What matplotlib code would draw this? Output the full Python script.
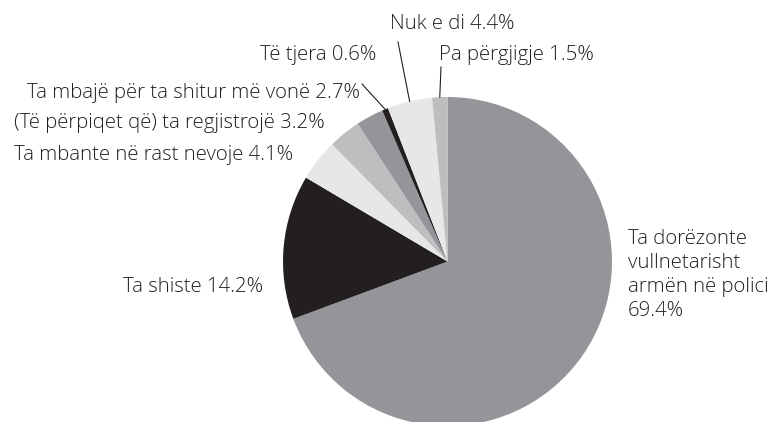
import numpy as np
import matplotlib
matplotlib.use("Agg")
import matplotlib.pyplot as plt

# ---- data ----
categories = [
    "Ta dorëzonte\nvullnetarisht\narmën në polici",
    "Ta shiste",
    "Ta mbante në rast nevoje",
    "(Të përpiqet që) ta regjistrojë",
    "Ta mbajë për ta shitur më vonë",
    "Të tjera",
    "Nuk e di",
    "Pa përgjigje",
]
values = [69.4, 14.2, 4.1, 3.2, 2.7, 0.6, 4.4, 1.5]
colors = ["#939598", "#231f20", "#e6e7e8", "#bcbec0", "#939598", "#231f20", "#e6e7e8", "#bcbec0"]

W, H = 768, 422
plt.rcParams['font.family'] = ['Open Sans', 'DejaVu Sans']
TXT = "#231f20"
FS = 14.7

fig = plt.figure(figsize=(W / 100, H / 100), dpi=100)
ax = fig.add_axes([0, 0, 1, 1])

cx, cy, R = 447.5, H - 261.5, 164.5
wedges, _ = ax.pie(values, colors=colors, startangle=90, counterclock=False,
                   center=(cx, cy), radius=R,
                   wedgeprops=dict(linewidth=0))
ax.set_xlim(0, W)
ax.set_ylim(0, H)
ax.set_aspect('equal')
ax.axis('off')

def lab(i):
    return f"{categories[i]} {values[i]}%" if "\n" not in categories[i] else f"{categories[i]}\n{values[i]}%"

def edge(i):
    w = wedges[i]
    a = np.deg2rad((w.theta1 + w.theta2) / 2)
    return cx + R * np.cos(a), cy + R * np.sin(a)

# label placements (pixel coords from top-left): (x, y, ha)
place = {
    0: (628, 275, "left"),
    1: (263, 287, "right"),
    2: (293, 155, "right"),
    3: (325, 123, "right"),
    4: (360, 93, "right"),
    5: (376, 55, "right"),
    6: (390, 24, "left"),
    7: (439, 55, "left"),
}
for i, (x, y, ha) in place.items():
    ax.text(x, H - y, lab(i), ha=ha, va="center", fontsize=FS, color=TXT,
            linespacing=1.27, fontweight=300)

# leader lines
starts = {5: (362, 84), 6: (398, 42), 7: (441, 67)}
for i, (x, y) in starts.items():
    ex, ey = edge(i)
    ax.plot([x, ex], [H - y, ey], color=TXT, lw=0.8)

fig.savefig("out.png", dpi=100)
